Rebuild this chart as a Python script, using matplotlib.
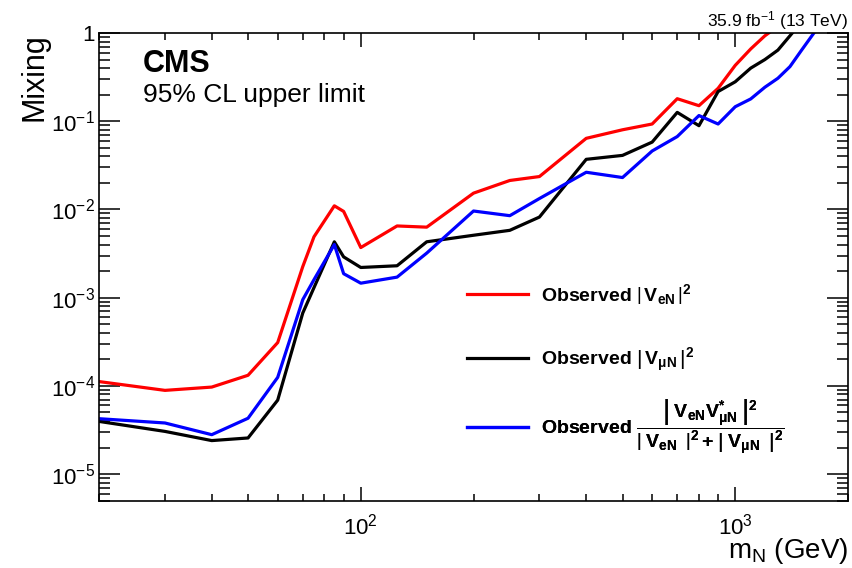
import matplotlib
matplotlib.use('Agg')
import matplotlib.pyplot as plt
from matplotlib.ticker import LogLocator, NullFormatter

# Fonts: Helvetica-like look
plt.rcParams['font.family'] = ['Liberation Sans', 'DejaVu Sans']
plt.rcParams['mathtext.fontset'] = 'custom'
plt.rcParams['mathtext.rm'] = 'Liberation Sans'
plt.rcParams['mathtext.it'] = 'Liberation Sans:italic'
plt.rcParams['mathtext.bf'] = 'Liberation Sans:bold'

# Observed limits
mass_eN = [20, 30, 40, 50, 60, 70, 75, 85, 90, 100, 125, 150, 200, 250, 300,
           400, 500, 600, 700, 800, 900, 1000, 1100, 1200, 1300]
limit_eN = [1.12e-4, 8.9e-5, 9.7e-5, 1.32e-4, 3.1e-4, 2.25e-3, 4.9e-3, 1.1e-2, 9.5e-3, 3.7e-3,
            6.5e-3, 6.3e-3, 1.53e-2, 2.13e-2, 2.36e-2, 6.4e-2, 8.0e-2, 9.3e-2, 0.18, 0.15,
            0.236, 0.43, 0.66, 0.93, 1.19]

mass_muN = [20, 30, 40, 50, 60, 70, 75, 85, 90, 100, 125, 150, 200, 250, 300,
            400, 500, 600, 700, 800, 900, 1000, 1100, 1200, 1300, 1400, 1500]
limit_muN = [3.96e-5, 3.05e-5, 2.4e-5, 2.57e-5, 6.9e-5, 6.7e-4, 1.3e-3, 4.3e-3, 2.9e-3, 2.2e-3,
             2.3e-3, 4.3e-3, 5.1e-3, 5.8e-3, 8.2e-3, 3.7e-2, 4.1e-2, 5.8e-2, 0.126, 0.089,
             0.217, 0.28, 0.40, 0.50, 0.64, 0.93, 1.32]

mass_emu = [20, 30, 40, 50, 60, 70, 75, 85, 90, 100, 125, 150, 200, 250, 300,
            400, 500, 600, 700, 800, 900, 1000, 1100, 1200, 1300, 1400, 1500, 1700]
limit_emu = [4.25e-5, 3.8e-5, 2.8e-5, 4.3e-5, 1.25e-4, 9.5e-4, 1.6e-3, 4.0e-3, 1.87e-3, 1.46e-3,
             1.71e-3, 3.2e-3, 9.6e-3, 8.5e-3, 1.33e-2, 2.64e-2, 2.3e-2, 4.6e-2, 6.7e-2, 0.116,
             0.093, 0.146, 0.179, 0.243, 0.307, 0.416, 0.63, 1.32]

labels = [r'Observed $\left|\,\mathbf{V}_{\mathbf{eN}}\,\right|^{\mathbf{2}}$',
          r'Observed $\left|\,\mathbf{V}_{\mathbf{\mu N}}\,\right|^{\mathbf{2}}$',
          r'Observed $\dfrac{\left|\;\mathbf{V}_{\mathbf{eN}}\mathbf{V}^{\mathbf{*}}_{\mathbf{\mu N}}\;\right|^{\mathbf{2}}}'
          r'{\left|\;\mathbf{V}_{\mathbf{eN}}\;\;\right|^{\mathbf{2}}\,\mathbf{+}\;\left|\;\mathbf{V}_{\mathbf{\mu N}}\;\;\right|^{\mathbf{2}}}$']
colors = ['#ff0000', '#000000', '#0000ff']
legend_y = [0.441, 0.301, 0.158]

x_ticks = [100, 1000]
x_ticklabels = [r'$10^{2}$', r'$10^{3}$']
y_ticks = [1e-5, 1e-4, 1e-3, 1e-2, 1e-1, 1]
y_ticklabels = [r'$10^{-5}$', r'$10^{-4}$', r'$10^{-3}$', r'$10^{-2}$', r'$10^{-1}$', '1']

fig = plt.figure(figsize=(8.53, 5.68), dpi=100)
ax = fig.add_axes([0.1161, 0.1185, 0.878, 0.8234])

lines = []
for m, v, c in zip([mass_eN, mass_muN, mass_emu], [limit_eN, limit_muN, limit_emu], colors):
    ln, = ax.plot(m, v, color=c, lw=2.3)
    lines.append(ln)

ax.set_xscale('log')
ax.set_yscale('log')
ax.set_xlim(20, 2000)
ax.set_ylim(5e-6, 1)

ax.set_xticks(x_ticks)
ax.set_xticklabels(x_ticklabels)
ax.set_yticks(y_ticks)
ax.set_yticklabels(y_ticklabels)
ax.xaxis.set_minor_locator(LogLocator(base=10, subs=range(2, 10)))
ax.yaxis.set_minor_locator(LogLocator(base=10, subs=range(2, 10), numticks=20))
ax.xaxis.set_minor_formatter(NullFormatter())
ax.yaxis.set_minor_formatter(NullFormatter())

ax.tick_params(which='both', direction='in', top=True, right=True, width=1.1, labelsize=16)
ax.tick_params(axis='y', which='major', length=15, pad=3)
ax.tick_params(axis='y', which='minor', length=8)
ax.tick_params(axis='x', which='major', length=10, pad=9)
ax.tick_params(axis='x', which='minor', length=5)
for sp in ax.spines.values():
    sp.set_linewidth(1.2)

# Axis titles
ax.set_ylabel('Mixing', fontsize=22, loc='top')
ax.yaxis.set_label_coords(-0.066, 1.0)
ax.text(1.0, -0.1225, r'm$_{\mathrm{N}}$ (GeV)', transform=ax.transAxes,
        ha='right', va='baseline', fontsize=20)

# CMS labels
ax.text(0.0587, 0.9166, 'CMS', transform=ax.transAxes, fontsize=22,
        fontweight='bold', va='baseline')
ax.text(0.0587, 0.8525, '95% CL upper limit', transform=ax.transAxes, fontsize=19,
        va='baseline')
ax.text(1.0, 1.0135, r'35.9 fb$^{-1}$ (13 TeV)', transform=ax.transAxes, fontsize=12.5,
        ha='right', va='baseline')

# One legend per entry so the rows sit where they do in the original
for ln, lab, y in zip(lines, labels, legend_y):
    leg = ax.legend([ln], [lab], loc='center left', bbox_to_anchor=(0.491, y),
                    frameon=False, borderpad=0, borderaxespad=0,
                    handlelength=3.15, handletextpad=0.65,
                    prop={'weight': 'bold', 'size': 14})
    ax.add_artist(leg)

fig.savefig('out.png', dpi=100)
